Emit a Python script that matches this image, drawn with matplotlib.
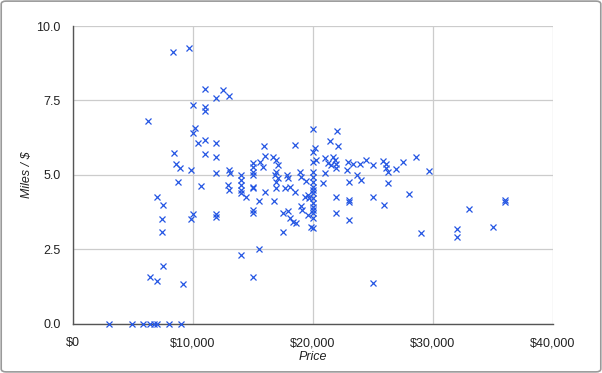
import matplotlib
matplotlib.use('Agg')
import matplotlib.pyplot as plt
from matplotlib.patches import FancyBboxPatch
from matplotlib.ticker import FuncFormatter

plt.rcParams['font.family'] = ['Liberation Sans', 'DejaVu Sans']

# price in dollars, miles per dollar
price = [
    3000, 4950, 5800, 6400, 6750, 7000, 8000, 9000,
    6250, 6450, 7000, 7500, 9200,
    7000, 7500, 7450, 7450,
    8300, 9700,
    8400, 8600, 8950, 8750,
    9800, 10000, 9800,
    10000, 10150, 10000, 10400,
    11000, 11000, 11000, 11000, 11000,
    10650,
    11950, 11950, 11950, 11950, 11950, 11950,
    12500, 13000,
    13000, 13050, 12900, 13000,
    14000, 14000, 14000, 14000, 13975, 14450, 14000,
    15000, 15000, 15000, 15000, 15000, 15000, 15000, 15000, 15000,
    15500, 15500,
    15900, 15970, 15560, 15830, 15970,
    16700, 16950, 17080, 16950, 16800, 17100, 16950, 16950, 16750,
    17800, 17900, 17700, 18100, 18475, 18475, 17500, 17900, 18050, 18300, 18600, 17500,
    18900, 19030, 19450, 19600, 19700, 19300, 19030, 19100, 19600, 19870,
    20000, 20140, 20000, 20280, 20000, 20000, 20000, 20000, 20000, 20000,
    20000, 20000, 20000, 20000, 20000, 20000, 20000, 20000,
    22000, 21450, 22100, 21000, 21250, 21670, 21800, 21950, 21530, 21950,
    21000, 20830, 21950, 21950,
    22800, 22900, 23300, 23000, 23700, 23900, 24030, 24450, 23000, 23000, 23000,
    25000, 25800, 26100, 26100, 26250, 26900, 27500, 28600, 29700,
    26250, 25000, 25950, 28000, 29000, 25000,
    32000, 32000, 33000, 35000, 36000, 36000,
]
miles_per_dollar = [
    0, 0, 0, 0, 0, 0, 0, 0,
    6.82, 1.55, 1.44, 1.93, 1.32,
    4.26, 3.98, 3.50, 3.09,
    9.12, 9.27,
    5.72, 5.36, 5.22, 4.75,
    5.16, 3.68, 3.51,
    7.34, 6.56, 6.41, 6.08,
    7.90, 7.27, 7.14, 6.17, 5.70,
    4.63,
    7.57, 6.06, 5.61, 5.07, 3.68, 3.59,
    7.84, 7.65,
    5.16, 5.07, 4.66, 4.49,
    4.99, 4.82, 4.66, 4.49, 4.40, 4.26, 2.30,
    5.41, 5.27, 5.10, 4.99, 4.60, 4.54, 3.82, 3.70, 1.57,
    4.13, 2.49,
    5.97, 5.63, 5.44, 5.25, 4.43,
    5.61, 5.50, 5.33, 5.10, 4.99, 4.88, 4.77, 4.54, 4.13,
    4.99, 4.88, 4.54, 4.58, 4.43, 6.00, 3.70, 3.79, 3.54, 3.42, 3.37, 3.09,
    5.10, 4.93, 4.80, 4.32, 4.21, 4.26, 3.95, 3.82, 3.65, 3.23,
    6.54, 5.89, 5.77, 5.50, 5.44, 5.10, 4.93, 4.77, 4.60, 4.49,
    4.38, 4.21, 4.04, 3.93, 3.82, 3.70, 3.54, 3.20,
    6.48, 6.14, 5.98, 5.55, 5.41, 5.61, 5.50, 5.38, 5.33, 5.22,
    5.05, 4.71, 4.24, 3.70,
    5.16, 5.44, 5.38, 4.75, 4.99, 5.38, 4.82, 5.50, 4.15, 4.10, 3.47,
    5.33, 5.47, 5.38, 5.22, 5.10, 5.20, 5.44, 5.59, 5.13,
    4.73, 4.24, 3.97, 4.35, 3.03, 1.35,
    3.17, 2.92, 3.85, 3.23, 4.15, 4.09,
]

fig = plt.figure(figsize=(6.02, 3.73), dpi=100)
fig.patches.append(FancyBboxPatch((0.002, 0.003), 0.996, 0.994, boxstyle='round,pad=0,rounding_size=0.008',
                                  transform=fig.transFigure, fill=False, edgecolor='#9a9a9a', linewidth=1.2))
ax = fig.add_axes([0.1213, 0.1327, 0.7973, 0.7973])

ax.plot(price, miles_per_dollar, linestyle='none', marker='x', markersize=5,
        markeredgewidth=0.9, color='#2456e3', clip_on=False, zorder=3)

ax.set_xlim(0, 40000)
ax.set_ylim(0, 10)
ax.set_xticks([0, 10000, 20000, 30000, 40000])
ax.set_yticks([0, 2.5, 5, 7.5, 10])
ax.xaxis.set_major_formatter(FuncFormatter(lambda v, p: '${:,.0f}'.format(v)))
ax.yaxis.set_major_formatter(FuncFormatter(lambda v, p: '{:.1f}'.format(v)))
ax.tick_params(length=0, labelsize=9, labelcolor='#222222')
ax.tick_params(axis='x', pad=10)
ax.tick_params(axis='y', pad=9)

ax.grid(True, color='#cccccc', linewidth=0.9)
ax.set_axisbelow(True)
for s in ['top', 'right']:
    ax.spines[s].set_visible(False)
for s in ['left', 'bottom']:
    ax.spines[s].set_color('#555555')
    ax.spines[s].set_linewidth(1.0)

ax.set_xlabel('Price', fontsize=9, style='italic', color='#222222', labelpad=1)
ax.set_ylabel('Miles / $', fontsize=9, style='italic', color='#222222', labelpad=2)

fig.savefig('out.png', dpi=100)
